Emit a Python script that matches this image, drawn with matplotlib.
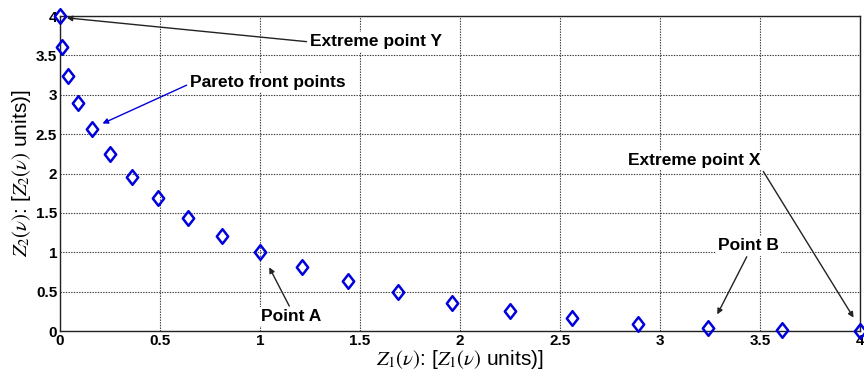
import matplotlib.pyplot as plt
from matplotlib.path import Path

# Pareto front samples
z1 = [0, 0.01, 0.04, 0.09, 0.16, 0.25, 0.36, 0.49, 0.64, 0.81, 1.0,
      1.21, 1.44, 1.69, 1.96, 2.25, 2.56, 2.89, 3.24, 3.61, 4.0]
z2 = [4.0, 3.61, 3.24, 2.89, 2.56, 2.25, 1.96, 1.69, 1.44, 1.21, 1.0,
      0.81, 0.64, 0.49, 0.36, 0.25, 0.16, 0.09, 0.04, 0.01, 0]

xticks = [0, 0.5, 1, 1.5, 2, 2.5, 3, 3.5, 4]
xticklabels = ['0', '0.5', '1', '1.5', '2', '2.5', '3', '3.5', '4']
yticks = [0, 0.5, 1, 1.5, 2, 2.5, 3, 3.5, 4]
yticklabels = ['0', '0.5', '1', '1.5', '2', '2.5', '3', '3.5', '4']

plt.switch_backend('AGG')
plt.rcParams['font.family'] = ['Liberation Sans', 'DejaVu Sans']
plt.rcParams['mathtext.fontset'] = 'stix'

# slightly narrow open diamond
diamond = Path([(0, 1), (0.78, 0), (0, -1), (-0.78, 0), (0, 1)],
               [Path.MOVETO, Path.LINETO, Path.LINETO, Path.LINETO, Path.CLOSEPOLY])

fig = plt.figure(figsize=(8.64, 3.81), dpi=100)
ax = fig.add_axes([0.0694, 0.1312, 0.9260, 0.8268])

ax.plot(z1, z2, linestyle='none', marker=diamond, markersize=10.5,
        markerfacecolor='none', markeredgecolor='#0000dd', markeredgewidth=1.8,
        zorder=5, clip_on=False)

ax.set_xlim(0, 4)
ax.set_ylim(0, 4)
ax.set_xticks(xticks)
ax.set_xticklabels(xticklabels, fontsize=11, fontweight='bold')
ax.set_yticks(yticks)
ax.set_yticklabels(yticklabels, fontsize=11, fontweight='bold')
ax.tick_params(length=0, pad=2)
ax.grid(True, color='#333333', linestyle=(0, (1.2, 1.2)), linewidth=0.8)
for s in ax.spines.values():
    s.set_linewidth(1.0)
    s.set_color('#222222')

ax.set_xlabel(r'$Z_1(\nu)$: [$Z_1(\nu)$ units)]', fontsize=15, labelpad=0)
ax.set_ylabel(r'$Z_2(\nu)$: [$Z_2(\nu)$ units)]', fontsize=15, labelpad=2)


def arrow(color, rel):
    return dict(arrowstyle='-|>', color=color, lw=1.0, mutation_scale=8,
                relpos=rel, shrinkA=1)


box = dict(facecolor='white', edgecolor='none', pad=1.5)
lab = dict(fontsize=12.5, fontweight='bold', va='center', bbox=box, zorder=6)

ax.annotate('Extreme point Y', xy=(0.02, 3.98), xytext=(1.25, 3.67),
            ha='left', arrowprops=arrow('#222222', (0, 0.5)), **lab)
ax.annotate('Pareto front points', xy=(0.2, 2.62), xytext=(0.65, 3.16),
            ha='left', arrowprops=arrow('#0000dd', (0, 0.4)), **lab)
ax.annotate('Extreme point X', xy=(3.975, 0.14), xytext=(2.84, 2.16),
            ha='left', arrowprops=arrow('#222222', (1, 0.1)), **lab)
ax.annotate('Point B', xy=(3.28, 0.18), xytext=(3.29, 1.08),
            ha='left', arrowprops=arrow('#222222', (0.5, 0)), **lab)
ax.annotate('Point A', xy=(1.04, 0.84), xytext=(1.155, 0.18),
            ha='center', arrowprops=arrow('#222222', (0.5, 1)), **lab)

plt.savefig('out.png', dpi=100)
